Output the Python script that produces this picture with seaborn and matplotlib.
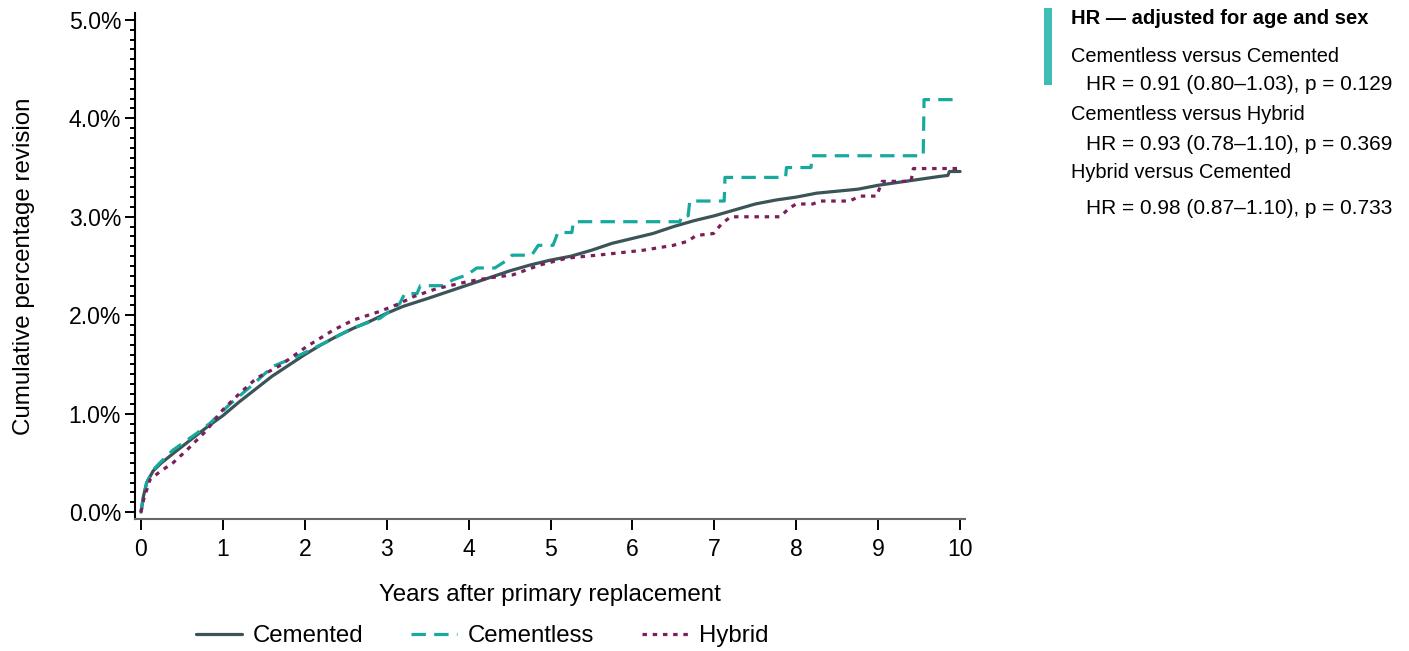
import numpy as np
import pandas as pd
import matplotlib
matplotlib.use("Agg")
import matplotlib.pyplot as plt
from matplotlib.ticker import MultipleLocator, FuncFormatter
from matplotlib.patches import Rectangle
import seaborn as sns

# ---- data (years after primary replacement, cumulative % revision) ----
cemented_x = [0, 0.03, 0.07, 0.15, 0.25, 0.4, 0.6, 0.8, 1.0, 1.2, 1.4, 1.6, 1.8, 2.0, 2.2, 2.4, 2.6,
              2.8, 3.0, 3.2, 3.5, 3.75, 4.0, 4.25, 4.5, 4.75, 5.0, 5.25, 5.5, 5.75, 6.0, 6.25, 6.5,
              6.75, 7.0, 7.25, 7.5, 7.75, 8.0, 8.25, 8.5, 8.75, 9.0, 9.25, 9.5, 9.75, 9.85, 9.87, 10.0]
cemented_y = [0, 0.16, 0.3, 0.42, 0.5, 0.6, 0.73, 0.86, 0.98, 1.12, 1.25, 1.38, 1.49, 1.6, 1.7, 1.79, 1.87,
              1.94, 2.02, 2.09, 2.17, 2.24, 2.31, 2.38, 2.45, 2.51, 2.56, 2.6, 2.66, 2.73, 2.78, 2.83, 2.9,
              2.96, 3.01, 3.07, 3.13, 3.17, 3.2, 3.24, 3.26, 3.28, 3.32, 3.35, 3.38, 3.41, 3.42, 3.46, 3.46]

cementless_x = [0, 0.03, 0.07, 0.15, 0.23, 0.39, 0.68, 0.84, 1.09, 1.33, 1.61, 1.9, 2.27, 2.59, 2.92,
                3.16, 3.22, 3.37, 3.41, 3.69, 3.81, 3.98, 4.1, 4.32, 4.47, 4.53, 4.77, 4.85, 5.03, 5.09,
                5.26, 5.28, 6.58, 6.6, 6.68, 6.7, 7.12, 7.13, 7.87, 7.88, 8.18, 8.19, 9.55, 9.56, 10.0]
cementless_y = [0, 0.16, 0.3, 0.43, 0.5, 0.63, 0.8, 0.9, 1.1, 1.27, 1.48, 1.58, 1.73, 1.87, 1.97,
                2.12, 2.22, 2.22, 2.30, 2.30, 2.36, 2.41, 2.48, 2.48, 2.56, 2.61, 2.61, 2.71, 2.71, 2.84,
                2.84, 2.95, 2.95, 3.01, 3.01, 3.16, 3.16, 3.40, 3.40, 3.50, 3.50, 3.62, 3.62, 4.19, 4.19]

hybrid_x = [0, 0.03, 0.11, 0.23, 0.39, 0.56, 0.8, 1.0, 1.21, 1.41, 1.7, 2.02, 2.35, 2.59, 2.92, 3.16,
            3.33, 3.61, 3.98, 4.26, 4.54, 4.87, 5.2, 5.69, 6.13, 6.5, 6.67, 6.78, 6.99, 7.09, 7.2, 7.8,
            7.92, 8.0, 8.2, 8.3, 8.65, 8.78, 8.98, 9.05, 9.4, 9.43, 10.0]
hybrid_y = [0, 0.12, 0.33, 0.41, 0.5, 0.63, 0.83, 1.04, 1.21, 1.36, 1.49, 1.68, 1.85, 1.95, 2.04, 2.12,
            2.19, 2.27, 2.34, 2.38, 2.41, 2.51, 2.58, 2.62, 2.66, 2.71, 2.75, 2.81, 2.83, 2.93, 3.0, 3.0,
            3.09, 3.13, 3.13, 3.16, 3.16, 3.21, 3.21, 3.36, 3.36, 3.49, 3.49]

series_names = ["Cemented", "Cementless", "Hybrid"]
y_ticks = [0, 1, 2, 3, 4, 5]
x_ticks = list(range(0, 11))

hr_title = "HR \u2014 adjusted for age and sex"
hr_lines = [
    ("Cementless versus Cemented", "HR = 0.91 (0.80\u20131.03), p = 0.129"),
    ("Cementless versus Hybrid", "HR = 0.93 (0.78\u20131.10), p = 0.369"),
    ("Hybrid versus Cemented", "HR = 0.98 (0.87\u20131.10), p = 0.733"),
]

# ---- styling ----
colors = {"Cemented": "#3a5457", "Cementless": "#16aa9f", "Hybrid": "#7b1f5c"}
dashes = {"Cemented": "", "Cementless": (4.5, 2.6), "Hybrid": (1.4, 1.8)}

sns.set_theme(style="ticks")
plt.rcParams["font.family"] = ["Liberation Sans", "DejaVu Sans"]
for k in ["text.color", "axes.labelcolor", "xtick.color", "ytick.color", "axes.edgecolor"]:
    plt.rcParams[k] = "black"

df = pd.concat([
    pd.DataFrame({"x": cemented_x, "y": cemented_y, "s": "Cemented"}),
    pd.DataFrame({"x": cementless_x, "y": cementless_y, "s": "Cementless"}),
    pd.DataFrame({"x": hybrid_x, "y": hybrid_y, "s": "Hybrid"}),
], ignore_index=True)

W, H = 1409, 651
fig = plt.figure(figsize=(W / 100, H / 100), dpi=100)
ax = fig.add_axes([135 / W, 1 - 519 / H, 830 / W, (519 - 13) / H])

sns.lineplot(data=df, x="x", y="y", hue="s", style="s", hue_order=series_names,
             style_order=series_names, palette=colors, dashes=dashes,
             estimator=None, sort=True, linewidth=2.3, ax=ax, legend=True)

ax.set_xlim(-0.073, 10.06)
ax.set_ylim(-0.07, 5.07)
ax.set_xticks(x_ticks)
ax.set_yticks(y_ticks)
ax.yaxis.set_major_formatter(FuncFormatter(lambda v, p: f"{v:.1f}%"))
ax.yaxis.set_minor_locator(MultipleLocator(0.1))
ax.tick_params(axis="both", which="major", labelsize=16.6, colors="black", width=1.4)
ax.tick_params(axis="x", which="major", length=8, pad=6)
ax.tick_params(axis="y", which="major", length=7, pad=3)
ax.tick_params(axis="y", which="minor", length=3.5, width=1.4, color="black")
ax.tick_params(axis="x", which="minor", length=0)
for s in ["top", "right"]:
    ax.spines[s].set_visible(False)
ax.spines["left"].set_color("black")
ax.spines["left"].set_linewidth(1.5)
ax.spines["bottom"].set_color("#666666")
ax.spines["bottom"].set_linewidth(1.5)

ax.set_xlabel("Years after primary replacement", fontsize=17.4, labelpad=16)
ax.set_ylabel("Cumulative percentage revision", fontsize=17.4, labelpad=24)

handles, labels = ax.get_legend_handles_labels()
ax.get_legend().remove()
keep = [(h, l) for h, l in zip(handles, labels) if l in series_names]
fig.legend([h for h, l in keep], [l for h, l in keep], loc="center",
           bbox_to_anchor=(482 / W, 1 - 636 / H), ncol=3, frameon=False, fontsize=17.3,
           handlelength=1.9, handletextpad=0.45, columnspacing=2.0)

# HR annotation panel
fig.patches.append(Rectangle((1044 / W, 1 - 85 / H), 8 / W, 77 / H, transform=fig.transFigure,
                             facecolor="#3dbdb3", edgecolor="none"))
fig.text(1071 / W, 1 - 18 / H, hr_title, fontsize=14.5, fontweight="bold", va="center", ha="left")
ys = [(57, 85), (115, 144), (173, 209)]
for (a, b), (y1, y2) in zip(hr_lines, ys):
    fig.text(1071 / W, 1 - y1 / H, a, fontsize=14.4, va="center", ha="left")
    fig.text(1086 / W, 1 - y2 / H, b, fontsize=15, va="center", ha="left")

fig.savefig("out.png", dpi=100)
